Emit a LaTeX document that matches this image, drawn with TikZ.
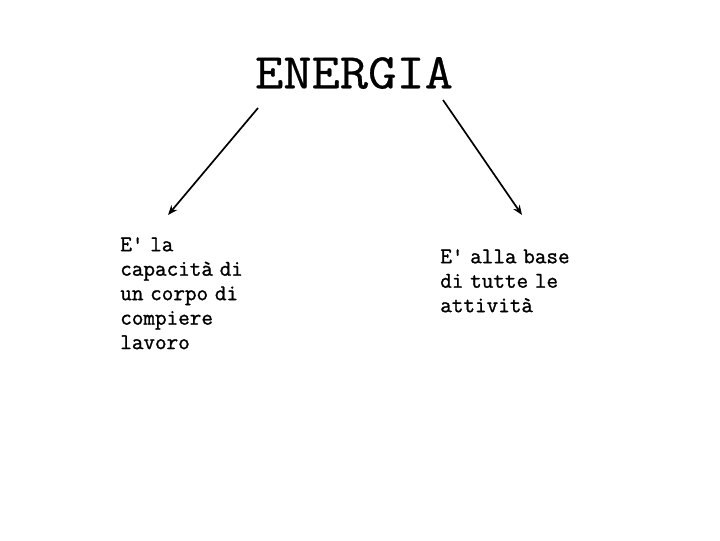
\documentclass[tikz,border=0pt]{standalone}
\usepackage{fontspec}
\newfontfamily\slabfont{Latin Modern Mono}[FakeBold=1.2]
\newfontfamily\headfont{Latin Modern Mono}[FakeBold=0.6, FakeStretch=1.1]
\newcommand\infofont{\slabfont\fontsize{16}{17.4}\selectfont\spaceskip=0.3em\relax}
\usetikzlibrary{positioning,arrows.meta}

\begin{document}
\begin{tikzpicture}[
    x=0.025cm, y=-0.025cm,
    title/.style={font=\headfont\fontsize{35.5}{40}\selectfont, inner sep=0pt},
    info/.style={font=\infofont, align=left, inner sep=0pt, anchor=north west},
    arrow/.style={-{Stealth[length=7pt,width=5.5pt]}, line width=1.2pt}
]
    \useasboundingbox (0,0) rectangle (720,540);

    % Titolo
    \node[title] (energia) at (354,73) {ENERGIA};

    % Definizioni
    \node[info] (lavoro) at (120,237) {E' la\\capacità di\\un corpo di\\compiere\\lavoro};
    \node[info] (attivita) at (440,249) {E' alla base\\di tutte le\\attività};

    % Frecce
    \coordinate (lavoro_top) at (168,215);
    \coordinate (attivita_top) at (522,215);
    \coordinate (energia_sx) at (258,108);
    \coordinate (energia_dx) at (443,100);
    \draw[arrow] (energia_sx) -- (lavoro_top);
    \draw[arrow] (energia_dx) -- (attivita_top);
\end{tikzpicture}
\end{document}
